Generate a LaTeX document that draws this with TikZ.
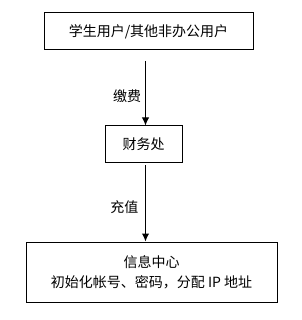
\documentclass[tikz,border=0pt]{standalone}
\usepackage{fontspec}
\setmainfont{Noto Sans CJK SC}
\usetikzlibrary{arrows.meta}
\begin{document}
\begin{tikzpicture}[x=0.75pt,y=-0.75pt,
  box/.style={draw,line width=0.75pt,inner sep=0pt,font=\fontsize{10.5pt}{15pt}\selectfont},
  lbl/.style={font=\fontsize{10.5pt}{13pt}\selectfont,anchor=east,inner sep=0pt},
  arr/.style={line width=0.75pt,-{Latex[length=6pt,width=5.5pt]}}]
\useasboundingbox (0,0) rectangle (301,320);
\node[box,minimum width=209*0.75pt,minimum height=37*0.75pt] (a) at (148.5,31.5) {学生用户/其他非办公用户};
\node[box,minimum width=77*0.75pt,minimum height=36*0.75pt] (b) at (143.5,144) {财务处};
\node[box,minimum width=251*0.75pt,minimum height=60*0.75pt,align=center] (c) at (151.5,272) {信息中心\\初始化帐号、密码，分配 IP 地址};
\coordinate (a1) at (145.5,61);
\coordinate (b1) at (145.5,165);
\draw[arr] (a1) -- (a1 |- b.north) node[lbl,pos=0.55,xshift=-3pt] {缴费};
\draw[arr] (b1) -- (b1 |- c.north) node[lbl,pos=0.55,xshift=-5pt] {充值};
\end{tikzpicture}
\end{document}
